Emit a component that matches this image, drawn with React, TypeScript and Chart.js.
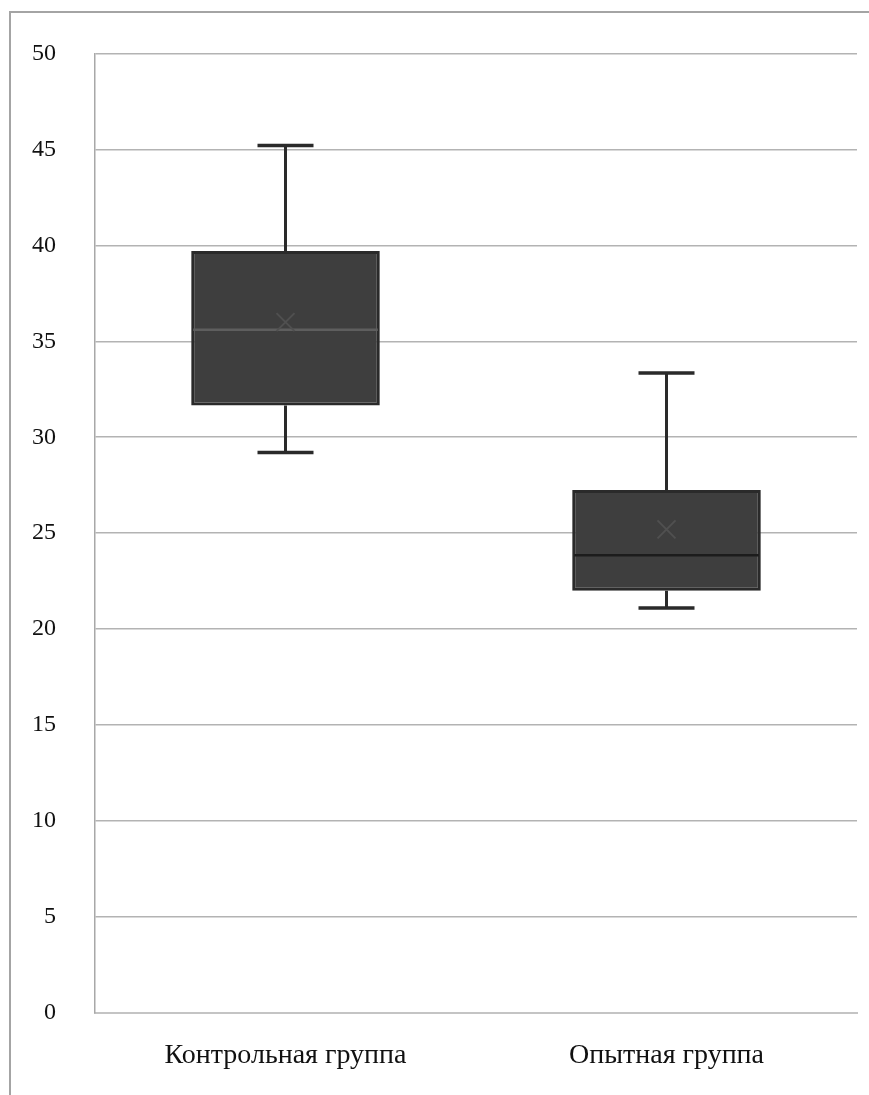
import React, { useEffect, useRef } from "react";
import { Chart, registerables } from "chart.js";

Chart.register(...registerables);

const categories = ["Контрольная группа", "Опытная группа"];
const minValues = [29.2, 21.1];
const q1Values = [31.65, 22.0];
const medianValues = [35.6, 23.85];
const q3Values = [39.7, 27.25];
const maxValues = [45.2, 33.35];
const meanValues = [36.0, 25.2];
const yTicks = [0, 5, 10, 15, 20, 25, 30, 35, 40, 45, 50];

const boxPlugin = {
  id: "boxParts",
  beforeDraw(chart: any) {
    const ctx = chart.ctx;
    ctx.save();
    ctx.fillStyle = "#ffffff";
    ctx.fillRect(0, 0, chart.width, chart.height);
    ctx.strokeStyle = "#a4a4a4";
    ctx.lineWidth = 2;
    ctx.beginPath();
    ctx.moveTo(10, chart.height);
    ctx.lineTo(10, 12);
    ctx.lineTo(chart.width, 12);
    ctx.stroke();
    ctx.restore();
  },
  beforeDatasetsDraw(chart: any) {
    const ctx = chart.ctx;
    const x = chart.scales.x;
    const y = chart.scales.y;
    ctx.save();
    ctx.strokeStyle = "#2a2a2a";
    categories.forEach((_, i) => {
      const cx = x.getPixelForValue(i);
      const yMin = y.getPixelForValue(minValues[i]);
      const yMax = y.getPixelForValue(maxValues[i]);
      const yQ1 = y.getPixelForValue(q1Values[i]);
      const yQ3 = y.getPixelForValue(q3Values[i]);
      ctx.lineWidth = 3;
      ctx.beginPath();
      ctx.moveTo(cx, yMax);
      ctx.lineTo(cx, yQ3);
      ctx.moveTo(cx, yQ1);
      ctx.lineTo(cx, yMin);
      ctx.stroke();
      const half = 28;
      ctx.lineWidth = 3.5;
      ctx.beginPath();
      ctx.moveTo(cx - half, yMax);
      ctx.lineTo(cx + half, yMax);
      ctx.moveTo(cx - half, yMin);
      ctx.lineTo(cx + half, yMin);
      ctx.stroke();
    });
    ctx.restore();
  },
  afterDatasetsDraw(chart: any) {
    const ctx = chart.ctx;
    const x = chart.scales.x;
    const y = chart.scales.y;
    const meta = chart.getDatasetMeta(0);
    ctx.save();
    categories.forEach((_, i) => {
      const bar = meta.data[i];
      const w = bar.width;
      const cx = x.getPixelForValue(i);
      const ym = y.getPixelForValue(medianValues[i]);
      ctx.strokeStyle = i === 0 ? "#5e5e5e" : "#1c1c1c";
      ctx.lineWidth = 2.5;
      ctx.beginPath();
      ctx.moveTo(cx - w / 2 + 2, ym);
      ctx.lineTo(cx + w / 2 - 2, ym);
      ctx.stroke();
      const yMean = y.getPixelForValue(meanValues[i]);
      ctx.strokeStyle = "#505050";
      ctx.lineWidth = 2;
      const s = 9;
      ctx.beginPath();
      ctx.moveTo(cx - s, yMean - s);
      ctx.lineTo(cx + s, yMean + s);
      ctx.moveTo(cx + s, yMean - s);
      ctx.lineTo(cx - s, yMean + s);
      ctx.stroke();
    });
    ctx.restore();
  },
};

export default function App() {
  const ref = useRef<HTMLCanvasElement>(null);
  useEffect(() => {
    document.body.style.margin = "0";
    const chart = new Chart(ref.current!, {
      type: "bar",
      data: {
        labels: categories,
        datasets: [
          {
            data: categories.map((_, i) => [q1Values[i], q3Values[i]]) as any,
            backgroundColor: "#3e3e3e",
            borderColor: "#2a2a2a",
            borderWidth: 3,
            borderSkipped: false,
            categoryPercentage: 1,
            barPercentage: 0.495,
          },
        ],
      },
      options: {
        responsive: false,
        animation: false,
        layout: { padding: { top: 53, right: 12, left: 0, bottom: 0 } },
        plugins: { legend: { display: false }, tooltip: { enabled: false } },
        scales: {
          x: {
            offset: true,
            grid: { display: false, drawTicks: false },
            border: { display: true, color: "#c4c4c4", width: 2 },
            ticks: {
              padding: 26,
              color: "#111111",
              font: { family: "'Liberation Serif', 'Times New Roman', serif", size: 28 },
            },
            afterFit(scale: any) {
              scale.height = 82;
            },
          },
          y: {
            min: 0,
            max: 50,
            afterBuildTicks(scale: any) {
              scale.ticks = yTicks.map((v) => ({ value: v }));
            },
            grid: { color: "#b3b3b3", lineWidth: 1.5, drawTicks: false },
            border: { display: true, color: "#a8a8a8", width: 1.5 },
            ticks: {
              padding: 39,
              color: "#111111",
              font: { family: "'Liberation Serif', 'Times New Roman', serif", size: 24 },
            },
            afterFit(scale: any) {
              scale.width = 95;
            },
          },
        },
      },
      plugins: [boxPlugin],
    });
    return () => chart.destroy();
  }, []);
  return (
    <div style={{ width: 869, height: 1095 }}>
      <canvas ref={ref} width={869} height={1095} style={{ display: "block" }} />
    </div>
  );
}
